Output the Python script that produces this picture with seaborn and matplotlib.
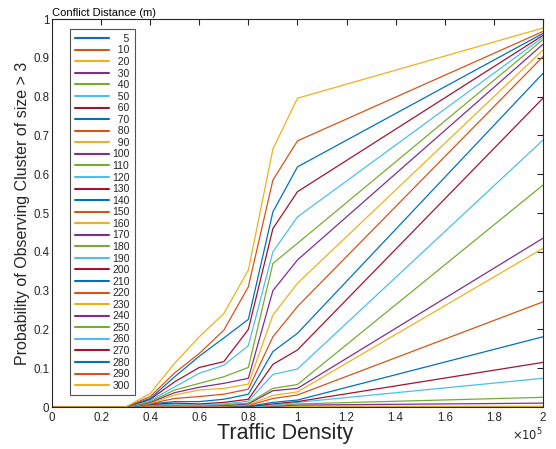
import numpy as np
import pandas as pd
import seaborn as sns
import matplotlib.pyplot as plt
from matplotlib.ticker import FuncFormatter, MultipleLocator

# conflict distances (m), one line each
distances = [5] + list(range(10, 301, 10))

# traffic densities where the probability was sampled
density = [0, 10000, 20000, 30000, 40000, 50000, 60000, 70000, 80000, 90000, 100000, 200000]

# probability of observing cluster of size > 3, one array per density (order = distances)
p_000k = [0.0] * 31
p_010k = [0.0] * 31
p_020k = [0.0] * 31
p_030k = [0.0] * 31
p_040k = [0, 0, 0, 0, 0, 0, 0, 0, 0, 0, 0, 0, 0, 0, 0, 0.002, 0.003, 0.004, 0.005, 0.006, 0.007,
          0.008, 0.009, 0.010, 0.012, 0.014, 0.017, 0.020, 0.022, 0.027, 0.035]
p_050k = [0, 0, 0, 0, 0, 0, 0, 0, 0, 0, 0, 0, 0, 0, 0, 0.002, 0.003, 0.004, 0.005, 0.006, 0.010,
          0.014, 0.022, 0.031, 0.037, 0.044, 0.052, 0.065, 0.078, 0.088, 0.113]
p_060k = [0, 0, 0, 0, 0, 0, 0, 0, 0, 0, 0, 0, 0, 0, 0, 0.001, 0.002, 0.003, 0.004, 0.005, 0.008,
          0.014, 0.027, 0.044, 0.051, 0.061, 0.087, 0.102, 0.131, 0.138, 0.181]
p_070k = [0, 0, 0, 0, 0, 0, 0, 0, 0, 0, 0, 0, 0, 0, 0, 0.002, 0.003, 0.004, 0.006, 0.008, 0.012,
          0.020, 0.033, 0.048, 0.061, 0.078, 0.108, 0.117, 0.178, 0.198, 0.241]
p_080k = [0, 0, 0, 0, 0, 0, 0, 0, 0, 0, 0, 0, 0, 0.001, 0.002, 0.004, 0.006, 0.008, 0.010, 0.015, 0.020,
          0.033, 0.046, 0.059, 0.074, 0.102, 0.158, 0.200, 0.226, 0.310, 0.353]
p_090k = [0, 0, 0, 0, 0, 0, 0, 0, 0, 0, 0.002, 0.003, 0.005, 0.008, 0.012, 0.022, 0.030, 0.042, 0.048,
          0.084, 0.110, 0.143, 0.181, 0.237, 0.300, 0.370, 0.400, 0.460, 0.503, 0.585, 0.665]
p_100k = [0, 0, 0, 0, 0, 0, 0, 0, 0, 0.002, 0.005, 0.008, 0.012, 0.014, 0.018, 0.031, 0.039, 0.048, 0.058,
          0.098, 0.147, 0.190, 0.259, 0.319, 0.379, 0.422, 0.490, 0.555, 0.619, 0.686, 0.796]
p_200k = [0, 0, 0, 0, 0, 0, 0, 0, 0, 0.002, 0.010, 0.025, 0.074, 0.115, 0.181, 0.271, 0.409, 0.435, 0.572,
          0.688, 0.796, 0.860, 0.903, 0.920, 0.935, 0.947, 0.953, 0.958, 0.963, 0.968, 0.977]

columns = [p_000k, p_010k, p_020k, p_030k, p_040k, p_050k, p_060k, p_070k,
           p_080k, p_090k, p_100k, p_200k]

rows = []
for d, col in zip(density, columns):
    for dist, p in zip(distances, col):
        rows.append({'density': d, 'prob': p, 'dist': str(dist)})
df = pd.DataFrame(rows)

matlab = ['#0072BD', '#D95319', '#EDB120', '#7E2F8E', '#77AC30', '#4DBEEE', '#A2142F']
palette = [matlab[i % 7] for i in range(len(distances))]
order = [str(d) for d in distances]

sns.set_style('white')
plt.rcParams['font.family'] = ['Liberation Sans', 'DejaVu Sans']

fig = plt.figure(figsize=(5.56, 4.49), dpi=100)
ax = fig.add_axes([0.0935, 0.0935, 0.883, 0.864])

sns.lineplot(data=df, x='density', y='prob', hue='dist', hue_order=order,
             palette=palette, errorbar=None, linewidth=0.9, legend=False, ax=ax)

ax.set_xlim(0, 200000)
ax.set_ylim(0, 1)
ax.xaxis.set_major_locator(MultipleLocator(20000))
ax.yaxis.set_major_locator(MultipleLocator(0.1))
ax.xaxis.set_major_formatter(FuncFormatter(lambda v, p: f'{v/1e5:g}'))
ax.yaxis.set_major_formatter(FuncFormatter(lambda v, p: f'{v:g}'))
ax.tick_params(direction='in', top=True, right=True, length=4, width=0.8,
               labelsize=8.3, color='#262626', labelcolor='#262626')
ax.tick_params(axis='y', pad=2)
for s in ax.spines.values():
    s.set_color('#262626')
    s.set_linewidth(0.8)

ax.set_xlabel('Traffic Density', fontsize=15.5, color='#262626', labelpad=1)
ax.xaxis.set_label_coords(0.475, -0.04)
ax.set_ylabel('Probability of Observing Cluster of size > 3', fontsize=11.5,
              color='#262626', labelpad=2)
ax.text(1.0, -0.05, r'$\times10^5$', transform=ax.transAxes, ha='right', va='top',
        fontsize=8.3, color='#262626')
ax.text(0.0, 1.003, 'Conflict Distance (m)', transform=ax.transAxes, ha='left',
        va='bottom', fontsize=8, color='black')

# right-align the numbers with figure spaces
labels = [s.rjust(3, '\u2007') for s in order]
leg = ax.legend(ax.get_lines(), labels, loc='upper left', bbox_to_anchor=(0.037, 0.974),
                borderaxespad=0, fontsize=7.5, labelspacing=0.15, handlelength=3.3,
                handletextpad=0.3, borderpad=0.45, frameon=True, fancybox=False,
                edgecolor='#262626')
leg.get_frame().set_linewidth(0.8)
for h in leg.get_lines():
    h.set_linewidth(1.5)

fig.savefig('out.png', dpi=100)
plt.close()
